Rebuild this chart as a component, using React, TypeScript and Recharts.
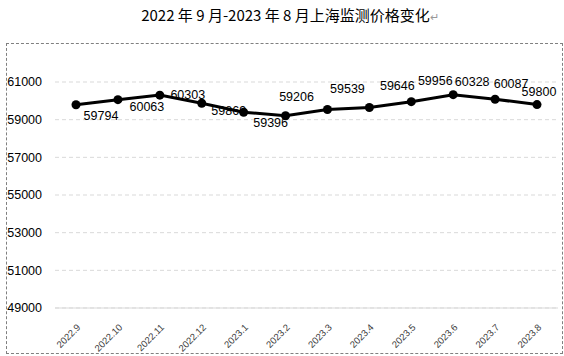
import { LineChart, Line, XAxis, YAxis, CartesianGrid } from 'recharts';

const months = ['2022.9', '2022.10', '2022.11', '2022.12', '2023.1', '2023.2', '2023.3', '2023.4', '2023.5', '2023.6', '2023.7', '2023.8'];
const prices = [59794, 60063, 60303, 59869, 59396, 59206, 59539, 59646, 59956, 60328, 60087, 59800];
const yTicks = [49000, 51000, 53000, 55000, 57000, 59000, 61000];

// label nudges (the original labels sit off their points)
const labelShift: [number, number][] = [
  [25, 11], [29, 7], [28, -1], [27, 7], [27, 10], [11, -19],
  [20, -21], [28, -22], [24, -21], [19, -13], [16, -16], [2, -13],
];

const chartData = months.map((m, i) => ({ month: m, price: prices[i] }));

const numFont = '"Liberation Sans", Arial, sans-serif';

const renderLabel = (props: any) => {
  const { x, y, value, index } = props;
  const [dx, dy] = labelShift[index] || [0, -12];
  return (
    <text x={x + dx} y={y + dy} dy="0.35em" textAnchor="middle" fontSize={12.5} fontFamily={numFont} fill="#000">
      {value}
    </text>
  );
};

const XTick = (props: any) => {
  const { x, y, payload } = props;
  return (
    <g transform={`translate(${x + 5},${y + 12})`}>
      <text x={0} y={0} textAnchor="end" transform="rotate(-45)" fontSize={9.5} fontFamily={numFont} fill="#404040">
        {payload.value}
      </text>
    </g>
  );
};

export default function App() {
  return (
    <div style={{ position: 'absolute', left: 0, top: 0, width: 564, height: 356, background: '#fff' }}>
      <div
        style={{
          position: 'absolute', left: 0, top: 5, width: 580, textAlign: 'center',
          fontFamily: '"Noto Sans CJK SC", sans-serif', fontSize: 15, lineHeight: '20px', color: '#000',
        }}
      >
        2022 年 9 月-2023 年 8 月上海监测价格变化<span style={{ color: '#999', fontSize: 11 }}>↵</span>
      </div>
      <div style={{ position: 'absolute', left: 6, top: 43, width: 555, height: 309, border: '1px dashed #808080' }} />
      <div style={{ position: 'absolute', left: 0, top: 0 }}>
        <LineChart width={564} height={356} data={chartData} margin={{ top: 82, right: 6, bottom: 0, left: 0 }}>
          <CartesianGrid vertical={false} stroke="#d9d9d9" strokeDasharray="4 3" />
          <XAxis
            dataKey="month"
            tick={<XTick />}
            tickLine={false}
            axisLine={{ stroke: '#d9d9d9' }}
            interval={0}
            height={48}
            padding={{ left: 21, right: 21 }}
          />
          <YAxis
            domain={[49000, 61000]}
            ticks={yTicks}
            width={55}
            axisLine={false}
            tickLine={false}
            tickMargin={7}
            tick={{ fontSize: 12.5, fontFamily: numFont, fill: '#000' }}
          />
          <Line
            type="linear"
            dataKey="price"
            stroke="#000"
            strokeWidth={3}
            dot={{ r: 4.5, fill: '#000', stroke: '#000', strokeWidth: 0 }}
            label={renderLabel}
            isAnimationActive={false}
          />
        </LineChart>
      </div>
    </div>
  );
}
